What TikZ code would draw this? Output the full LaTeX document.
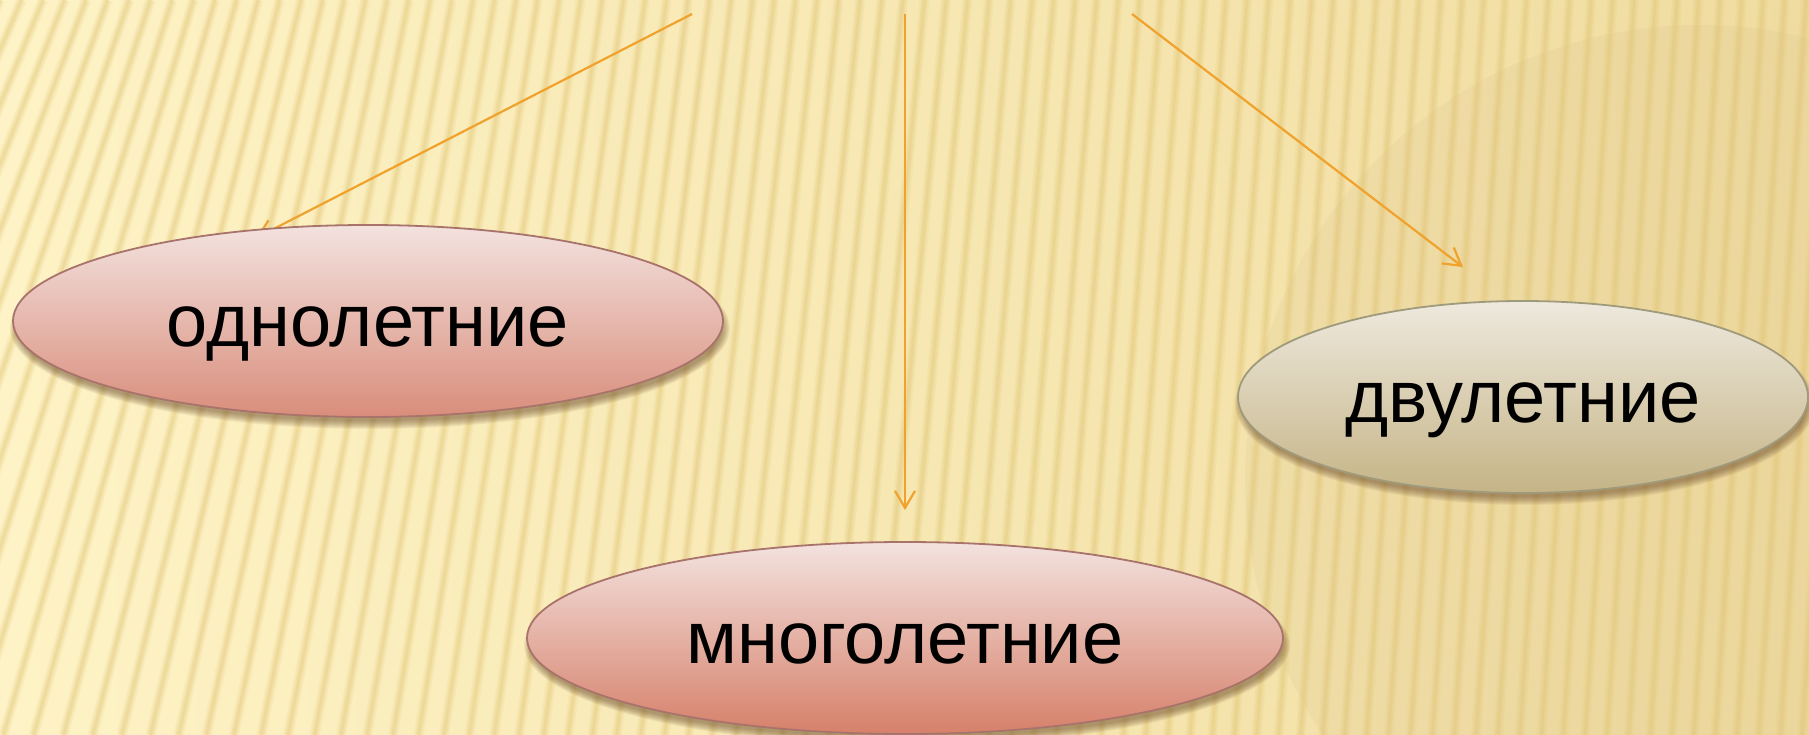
\documentclass[tikz,border=0pt]{standalone}
\usepackage{fontspec}
\setmainfont{Liberation Sans}
\usetikzlibrary{shapes.geometric,arrows.meta,calc}
\definecolor{bgL}{HTML}{FEF3C6}
\definecolor{bgR}{HTML}{F0DCA0}
\definecolor{strc}{HTML}{E0C472}
\definecolor{arrc}{HTML}{F0A22C}
\definecolor{pinkT}{HTML}{F3E2DF}
\definecolor{pinkB}{HTML}{D98D7B}
\definecolor{pinkB2}{HTML}{D6806A}
\definecolor{pinkD}{HTML}{A8736A}
\definecolor{tanT}{HTML}{EEE9DE}
\definecolor{tanB}{HTML}{C5B486}
\definecolor{tanD}{HTML}{A09A7C}
\definecolor{shd}{HTML}{6B4A2A}
\pgfdeclarelayer{back}
\pgfdeclarelayer{arrows}
\pgfsetlayers{back,arrows,main}
\tikzset{
  ell/.style={ellipse, line width=1.8pt, inner sep=0pt, text height=60pt, text depth=10pt,
    font=\fontsize{74}{80}\selectfont, text=black},
  arr/.style={draw=arrc, line width=2.2pt,
    -{Straight Barb[length=17pt, width=20pt, line width=2.2pt]}},
  stripeA/.style={draw=strc, line width=10pt, opacity=0.14},
  stripeB/.style={draw=strc, line width=6pt, opacity=0.22},
  stripeC/.style={draw=strc, line width=2.5pt, opacity=0.22},
}
\newcommand\myell[9]{%
  \foreach \k in {0,...,8}{\fill[shd, opacity=0.075] (#2+2,#3+7) ellipse [x radius={#4-3+\k}, y radius={#5-3+\k}];}
  \node[ell, minimum width={2*#4}, minimum height={2*#5}, top color=#6, bottom color=#7, draw=#8] (#1) at (#2,#3) {#9};
}
\begin{document}
\begin{tikzpicture}[x=1pt,y=-1pt]
\useasboundingbox (0,0) rectangle (1809,735);
\begin{pgfonlayer}{back}
  \fill[left color=bgL, right color=bgR] (0,0) rectangle (1809,735);
  \begin{scope}
    \clip (0,0) rectangle (1809,735);
    \fill[shd, opacity=0.035] (1700,480) circle (455);
    \foreach \i in {-2,...,86}{
      \pgfmathsetmacro\xt{\i*21.5}
      \pgfmathsetmacro\sl{-0.06-0.39*exp(-max(\xt,0)/400)}
      \pgfmathsetmacro\xb{\xt+\sl*735}
      \draw[stripeA] (\xt,0) -- (\xb,735);
      \draw[stripeB] (\xt,0) -- (\xb,735);
      \draw[stripeC] (\xt,0) -- (\xb,735);
    }
  \end{scope}
\end{pgfonlayer}

\myell{e1}{368}{321}{355}{96}{pinkT}{pinkB}{pinkD}{однолетние}
\myell{e2}{1523}{397}{285}{96}{tanT}{tanB}{tanD}{двулетние}
\myell{e3}{905}{638}{378}{96}{pinkT}{pinkB2}{pinkD}{многолетние}

\coordinate (s1) at (692,14);
\coordinate (s2) at (905,14);
\coordinate (s3) at (1132,14);
\coordinate (t1) at ($(e1.center)+(-112,-83)$);
\coordinate (t2) at ($(e3.north)+(0,-31)$);
\coordinate (t3) at ($(e2.north)+(-60,-33)$);
\begin{pgfonlayer}{arrows}
  \draw[arr] (s1) -- (t1);
  \draw[arr] (s2) -- (t2);
  \draw[arr] (s3) -- (t3);
\end{pgfonlayer}
\end{tikzpicture}
\end{document}
